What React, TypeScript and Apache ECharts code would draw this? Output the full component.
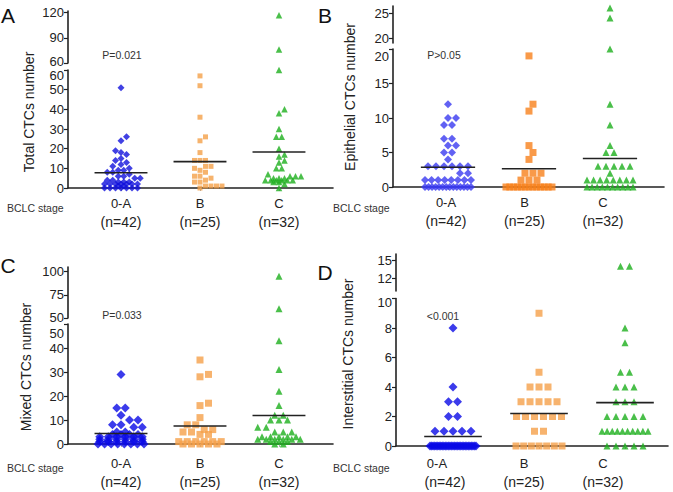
import React, { useEffect, useRef } from "react";
import * as echarts from "echarts";

const stages = ["0-A", "B", "C"];
const sizes = ["(n=42)", "(n=25)", "(n=32)"];

// Panel A: Total CTCs number
const totalBlue = [0, 0, 0, 0, 0, 0, 0, 1, 1, 2, 2, 2, 2, 2, 2, 2, 3, 3, 3, 4, 4, 5, 5, 6, 6, 7, 8, 8, 9, 9, 10, 11, 12, 13, 14, 15, 17, 18, 19, 24, 26, 51];
const totalOrange = [0, 1, 1, 1, 1, 3, 3, 4, 5, 6, 6, 8, 9, 10, 11, 11, 14, 14, 14, 18, 24, 26, 36, 52, 57];
const totalGreen = [0, 2, 3, 3, 4, 4, 4, 4, 4, 4, 5, 5, 5, 6, 6, 6, 7, 10, 10, 13, 14, 16, 17, 20, 26, 26, 30, 38, 40, 60, 76, 117];
const totalLowerTicks = [0, 10, 20, 30, 40, 50, 60];
const totalUpperTicks = [60, 90, 120];

// Panel B: Epithelial CTCs number
const epiBlue = [0, 0, 0, 0, 0, 0, 0, 0, 0, 0, 0, 0, 0, 0, 1, 1, 1, 1, 1, 1, 1, 1, 2, 2, 3, 3, 3, 3, 3, 3, 4, 5, 5, 6, 6, 7, 7, 9, 9, 10, 10, 12];
const epiOrange = [0, 0, 0, 0, 0, 0, 0, 0, 0, 0, 0, 0, 0, 1, 1, 1, 2, 2, 2, 4, 5, 6, 11, 12, 19];
const epiGreen = [0, 0, 0, 0, 0, 0, 0, 0, 0, 0, 1, 1, 1, 1, 1, 1, 1, 1, 2, 3, 3, 3, 3, 3, 5, 5, 6, 9, 12, 20, 24, 26];
const epiLowerTicks = [0, 5, 10, 15, 20];
const epiUpperTicks = [20, 25];

// Panel C: Mixed CTCs number
const mixedBlue = [0, 0, 0, 0, 0, 0, 0, 0, 1, 1, 1, 1, 1, 1, 2, 2, 2, 2, 2, 2, 3, 3, 3, 3, 3, 3, 4, 4, 4, 4, 5, 5, 7, 7, 8, 8, 10, 10, 12, 15, 15, 29];
const mixedOrange = [0, 0, 0, 0, 0, 1, 1, 1, 1, 1, 1, 4, 4, 5, 5, 6, 6, 8, 8, 11, 16, 17, 28, 29, 35];
const mixedGreen = [0, 0, 1, 1, 1, 2, 2, 2, 2, 2, 2, 3, 3, 3, 3, 3, 5, 5, 5, 7, 7, 10, 10, 10, 12, 12, 16, 22, 31, 43, 60, 95];
const mixedLowerTicks = [0, 10, 20, 30, 40, 50];
const mixedUpperTicks = [50, 75, 100];

// Panel D: Interstitial CTCs number
const interBlue = [0, 0, 0, 0, 0, 0, 0, 0, 0, 0, 0, 0, 0, 0, 0, 0, 0, 0, 0, 0, 0, 0, 0, 0, 0, 0, 0, 0, 0, 0, 0, 1, 1, 1, 1, 1, 2, 2, 3, 3, 4, 8];
const interOrange = [0, 0, 0, 0, 0, 0, 0, 1, 1, 2, 2, 2, 2, 2, 2, 3, 3, 3, 3, 3, 4, 4, 4, 5, 9];
const interGreen = [0, 0, 0, 0, 0, 1, 1, 1, 1, 1, 1, 1, 1, 1, 1, 2, 2, 2, 2, 2, 3, 3, 3, 4, 4, 4, 5, 5, 7, 8, 14, 14];
const interLowerTicks = [0, 2, 4, 6, 8, 10];
const interUpperTicks = [10, 12, 15];

const FONT = '"Liberation Sans", Arial, Helvetica, sans-serif';
const AXIS = "#222";

function mean(a: number[]) {
  return a.reduce((s, v) => s + v, 0) / a.length;
}

// beeswarm layout in pixel space; returns [offset in x units, value]
function swarm(values: number[], py: (v: number) => number, xPx: number, d: number, H: number) {
  const sorted = [...values].sort((a, b) => a - b);
  const placed: { x: number; y: number; v: number }[] = [];
  const s = d / 2;
  let i = 0;
  while (i < sorted.length) {
    let j = i;
    while (j < sorted.length && sorted[j] === sorted[i]) j++;
    const n = j - i;
    const v = sorted[i];
    const y = py(v);
    if ((n - 1) * d > 2 * H) {
      const sp = (2 * H) / (n - 1);
      for (let k = 0; k < n; k++) placed.push({ x: -H + k * sp, y, v });
    } else {
      const base = Array.from({ length: n }, (_, k) => (k - (n - 1) / 2) * d);
      const maxShift = H - ((n - 1) * d) / 2;
      const shifts = [0];
      for (let k = 1; k * s <= maxShift + 1e-6; k++) shifts.push(k * s, -k * s);
      let best = 0;
      let bestScore = -Infinity;
      for (const sh of shifts) {
        let minD = Infinity;
        for (const b of base)
          for (const p of placed) {
            const dd = Math.hypot(b + sh - p.x, y - p.y);
            if (dd < minD) minD = dd;
          }
        if (minD >= 0.9 * d) {
          best = sh;
          break;
        }
        if (minD > bestScore + 0.01) {
          bestScore = minD;
          best = sh;
        }
      }
      for (const b of base) placed.push({ x: b + best, y, v });
    }
    i = j;
  }
  return placed.map((p) => [p.x / xPx, p.v]);
}

const panels = [
  {
    letter: "A", letterPos: [8, 15], yName: "Total CTCs number", yNamePos: [29, 112],
    pText: "P=0.021", pPos: [122, 55], bclcPos: [7, 208],
    groups: [totalBlue, totalOrange, totalGreen],
    colors: ["#1212dc", "#f4a048", "#1daf1d"], symbolSizes: [7, 5, 6.5],
    d: 5.5, H: 23,
    left: 68, right: 333, xMin: 0.329, xMax: 3.684, lMin: 0.329, lMax: 3.684, labelMargin: 5.5,
    lower: { top: 70, bottom: 188, max: 60, ticks: totalLowerTicks },
    upper: { top: 11, bottom: 63, min: 60, max: 122, ticks: totalUpperTicks },
    lowTopShift: 5, upBottomShift: 2,
    shiftFirst: false,
  },
  {
    letter: "B", letterPos: [325, 15], yName: "Epithelial CTCs number", yNamePos: [350, 97],
    pText: "P>0.05", pPos: [444, 55], bclcPos: [333, 208],
    groups: [epiBlue, epiOrange, epiGreen],
    colors: ["#3a3af0", "#f8811c", "#1daf1d"], symbolSizes: [8, 7, 7],
    d: 8, H: 23,
    left: 393, right: 664, xMin: 0.321, xMax: 3.667, lMin: 0.325, lMax: 3.777, labelMargin: 5.5,
    lower: { top: 49, bottom: 187, max: 20, ticks: epiLowerTicks },
    upper: { top: 6, bottom: 43, min: 19, max: 26.4, ticks: epiUpperTicks },
    lowTopShift: 7, upBottomShift: 0,
    shiftFirst: false,
  },
  {
    letter: "C", letterPos: [8, 265], yName: "Mixed CTCs number", yNamePos: [26, 367],
    pText: "P=0.033", pPos: [122, 315], bclcPos: [7, 468],
    groups: [mixedBlue, mixedOrange, mixedGreen],
    colors: ["#0a0ae6", "#f5a04a", "#1daf1d"], symbolSizes: [9, 7, 7],
    d: 8.5, H: 23,
    left: 68, right: 333, xMin: 0.329, xMax: 3.684, lMin: 0.329, lMax: 3.684, labelMargin: 9.5,
    lower: { top: 324, bottom: 444, max: 50, ticks: mixedLowerTicks },
    upper: { top: 267, bottom: 318, min: 50, max: 105, ticks: mixedUpperTicks },
    lowTopShift: 9, upBottomShift: 1,
    shiftFirst: false,
  },
  {
    letter: "D", letterPos: [325, 272], yName: "Interstitial CTCs number", yNamePos: [348, 354],
    pText: "<0.001", pPos: [443, 316], bclcPos: [333, 468],
    groups: [interBlue, interOrange, interGreen],
    colors: ["#0a0ae6", "#f5a04a", "#1daf1d"], symbolSizes: [9, 7, 7],
    d: 9, H: 23,
    left: 396, right: 668, xMin: 0.337, xMax: 3.5, lMin: 0.38, lMax: 3.823, labelMargin: 7.5,
    lower: { top: 298.5, bottom: 446, max: 10, ticks: interLowerTicks },
    upper: { top: 254, bottom: 291, min: 10, max: 16, ticks: interUpperTicks },
    lowTopShift: 4, upBottomShift: 3,
    shiftFirst: true,
  },
];

const symbols = ["diamond", "rect", "triangle"];

function buildOption() {
  const grid: any[] = [];
  const xAxis: any[] = [];
  const yAxis: any[] = [];
  const series: any[] = [];
  const graphic: any[] = [];

  panels.forEach((p) => {
    const width = p.right - p.left;
    const gl = grid.length;
    grid.push({ left: p.left, top: p.lower.top, width, height: p.lower.bottom - p.lower.top });
    const gu = grid.length;
    grid.push({ left: p.left, top: p.upper.top, width, height: p.upper.bottom - p.upper.top });

    const xs = xAxis.length;
    xAxis.push({
      gridIndex: gl, type: "value", min: p.xMin, max: p.xMax, position: "bottom",
      axisLine: { show: true, onZero: false, lineStyle: { color: AXIS, width: 1.6 } },
      axisTick: { show: true, customValues: [1, 2, 3], length: 3, lineStyle: { color: "#aaa" } },
      axisLabel: { show: false }, splitLine: { show: false },
    });
    xAxis.push({
      gridIndex: gl, type: "value", min: p.lMin, max: p.lMax, position: "bottom",
      axisLine: { show: false }, axisTick: { show: false }, splitLine: { show: false },
      axisLabel: {
        show: true, customValues: [1, 2, 3], margin: p.labelMargin,
        formatter: (v: number) => {
          const k = Math.round(v) - 1;
          const key = p.shiftFirst && k === 0 ? "c" : "a";
          return `{${key}|${stages[k]}}\n{b|${sizes[k]}}`;
        },
        rich: {
          a: { fontSize: 13, lineHeight: 19, color: "#222", fontFamily: FONT },
          c: { fontSize: 13, lineHeight: 19, color: "#222", fontFamily: FONT, padding: [0, 16, 0, 0] },
          b: { fontSize: 14, lineHeight: 19, color: "#222", fontFamily: FONT },
        },
      },
    });
    const xu = xAxis.length;
    xAxis.push({ gridIndex: gu, type: "value", min: p.xMin, max: p.xMax, show: false });

    const yCommon = {
      type: "value",
      axisLine: { show: true, onZero: false, lineStyle: { color: AXIS, width: 1.6 } },
      splitLine: { show: false },
    };
    const tickText = { fontSize: 13, color: "#222", fontFamily: FONT };
    const yl = yAxis.length;
    yAxis.push({
      ...yCommon, gridIndex: gl, min: 0, max: p.lower.max,
      axisTick: { show: true, customValues: p.lower.ticks, length: 4, lineStyle: { color: AXIS, width: 1.2 } },
      axisLabel: {
        customValues: p.lower.ticks, ...tickText, margin: 4,
        formatter: (v: number) => (v === p.lower.max ? `{t|${v}}` : `{n|${v}}`),
        rich: { n: { ...tickText }, t: { ...tickText, padding: [p.lowTopShift * 2, 0, 0, 0] } },
      },
    });
    const yu = yAxis.length;
    yAxis.push({
      ...yCommon, gridIndex: gu, min: p.upper.min, max: p.upper.max,
      axisTick: { show: true, customValues: p.upper.ticks, length: 4, lineStyle: { color: AXIS, width: 1.2 } },
      axisLabel: {
        customValues: p.upper.ticks, ...tickText, margin: 4,
        formatter: (v: number) => (v === p.upper.ticks[0] ? `{u|${v}}` : `{n|${v}}`),
        rich: { n: { ...tickText }, u: { ...tickText, padding: [0, 0, p.upBottomShift * 2, 0] } },
      },
    });

    const lowScale = (p.lower.bottom - p.lower.top) / p.lower.max;
    const upScale = (p.upper.bottom - p.upper.top) / (p.upper.max - p.upper.min);
    const py = (v: number) =>
      v <= p.lower.max ? p.lower.bottom - v * lowScale : p.upper.bottom - (v - p.upper.min) * upScale;
    const xPx = width / (p.xMax - p.xMin);

    p.groups.forEach((vals, gi) => {
      const c = gi + 1;
      const pts = swarm(vals, py, xPx, p.d, p.H);
      const lowerPts = pts.filter(([, v]) => v <= p.lower.max).map(([o, v]) => [c + o, v]);
      const upperPts = pts.filter(([, v]) => v > p.lower.max).map(([o, v]) => [c + o, v]);
      const common = {
        type: "scatter", symbol: symbols[gi], symbolSize: p.symbolSizes[gi],
        itemStyle: { color: p.colors[gi] }, clip: false, z: 2, silent: true,
      };
      series.push({ ...common, xAxisIndex: xs, yAxisIndex: yl, data: lowerPts });
      if (upperPts.length) series.push({ ...common, xAxisIndex: xu, yAxisIndex: yu, data: upperPts });
      const m = mean(vals);
      series.push({
        type: "line", xAxisIndex: xs, yAxisIndex: yl, data: [[c - 0.335, m], [c + 0.335, m]],
        symbol: "none", lineStyle: { color: "#222", width: 1.6 }, z: 3, silent: true, clip: false,
      });
    });

    graphic.push({
      type: "text", x: p.letterPos[0], y: p.letterPos[1],
      style: { text: p.letter, fontSize: 21, fontFamily: FONT, fill: "#111", align: "center", verticalAlign: "middle" },
    });
    graphic.push({
      type: "text", x: p.yNamePos[0], y: p.yNamePos[1], rotation: Math.PI / 2,
      style: { text: p.yName, fontSize: 14, fontFamily: FONT, fill: "#222", align: "center", verticalAlign: "middle" },
    });
    graphic.push({
      type: "text", x: p.pPos[0], y: p.pPos[1],
      style: { text: p.pText, fontSize: 10.5, fontFamily: FONT, fill: "#333", align: "center", verticalAlign: "middle" },
    });
    graphic.push({
      type: "text", x: p.bclcPos[0], y: p.bclcPos[1],
      style: { text: "BCLC stage", fontSize: 10.5, fontFamily: FONT, fill: "#333", align: "left", verticalAlign: "middle" },
    });
  });

  return { animation: false, backgroundColor: "#fff", grid, xAxis, yAxis, series, graphic };
}

export default function App() {
  const ref = useRef<HTMLDivElement>(null);
  useEffect(() => {
    const chart = echarts.init(ref.current!, null, { renderer: "svg" });
    chart.setOption(buildOption() as any);
    return () => chart.dispose();
  }, []);
  return <div ref={ref} style={{ position: "absolute", left: 0, top: 0, width: 673, height: 492 }} />;
}
